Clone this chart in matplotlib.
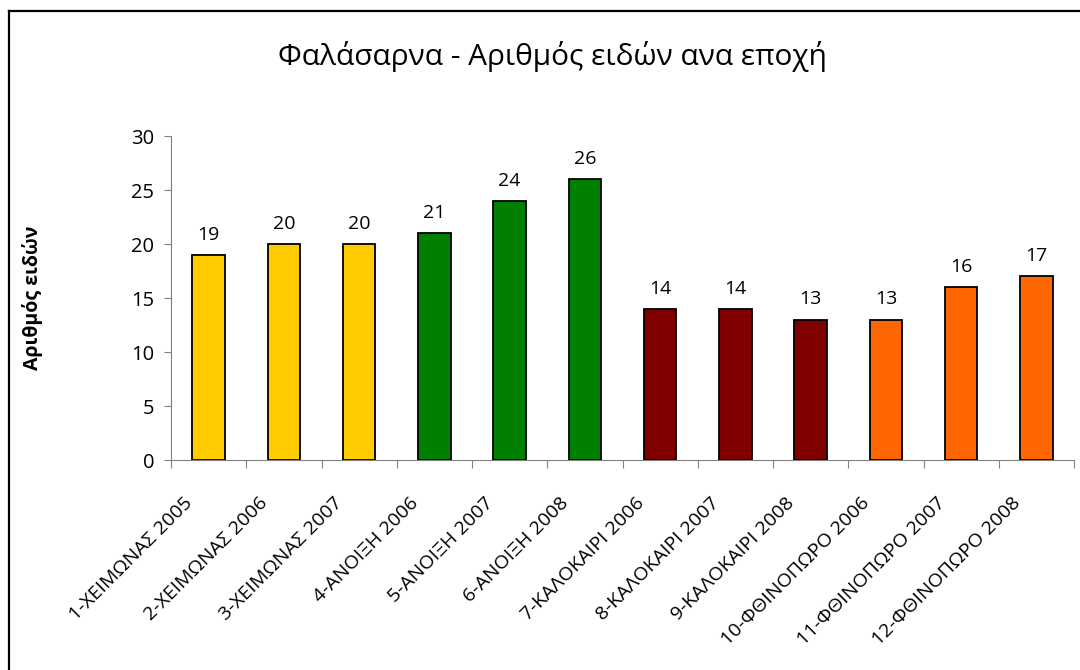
import matplotlib
matplotlib.use("Agg")
import matplotlib.pyplot as plt
import matplotlib.transforms as mtransforms
from matplotlib.lines import Line2D

plt.rcParams['font.family'] = ['Open Sans', 'DejaVu Sans']

# data
seasons = ["1-ΧΕΙΜΩΝΑΣ 2005", "2-ΧΕΙΜΩΝΑΣ 2006", "3-ΧΕΙΜΩΝΑΣ 2007",
           "4-ΑΝΟΙΞΗ 2006", "5-ΑΝΟΙΞΗ 2007", "6-ΑΝΟΙΞΗ 2008",
           "7-ΚΑΛΟΚΑΙΡΙ 2006", "8-ΚΑΛΟΚΑΙΡΙ 2007", "9-ΚΑΛΟΚΑΙΡΙ 2008",
           "10-ΦΘΙΝΟΠΩΡΟ 2006", "11-ΦΘΙΝΟΠΩΡΟ 2007", "12-ΦΘΙΝΟΠΩΡΟ 2008"]
species = [19, 20, 20, 21, 24, 26, 14, 14, 13, 13, 16, 17]
bar_colors = ["#FFCC00"] * 3 + ["#008000"] * 3 + ["#800000"] * 3 + ["#FF6600"] * 3
yticks = [0, 5, 10, 15, 20, 25, 30]

W, H = 1080, 670
fig = plt.figure(figsize=(W / 100, H / 100), dpi=100)
ax = fig.add_axes([171 / W, 1 - 460 / H, 903 / W, 324 / H])

x = range(len(species))
ax.bar(x, species, width=0.43, color=bar_colors, edgecolor="black", linewidth=1.3)
for xi, v in zip(x, species):
    ax.annotate(str(v), (xi, v), xytext=(0, 8), textcoords="offset points",
                ha="center", va="bottom", fontsize=14)

ax.set_xlim(-0.5, len(species) - 0.5)
ax.set_ylim(0, 30)
ax.set_yticks(yticks)
ax.tick_params(axis="y", labelsize=14.5, length=5, color="#808080", pad=7)

# category ticks between bars, labels centred under bars
ax.set_xticks([i - 0.5 for i in range(len(species) + 1)], minor=False)
ax.set_xticklabels([])
ax.set_xticks(list(x), minor=True)
ax.set_xticklabels(seasons, minor=True, rotation=45, ha="right", va="center",
                   rotation_mode="anchor", fontsize=14)
ax.tick_params(axis="x", which="major", length=6, color="#808080")
ax.tick_params(axis="x", which="minor", length=0, pad=29)
shift = mtransforms.ScaledTranslation(-19 / 100, 0, fig.dpi_scale_trans)
for lbl in ax.get_xticklabels(minor=True):
    lbl.set_transform(lbl.get_transform() + shift)

for s in ["top", "right"]:
    ax.spines[s].set_visible(False)
for s in ["left", "bottom"]:
    ax.spines[s].set_color("#808080")

ax.set_ylabel("Αριθμός ειδών", fontsize=14, fontweight="bold", labelpad=0)
ax.yaxis.set_label_coords((43 - 171) / 903, (460 - 298) / 324)

fig.text(553 / W, 1 - 56 / H, "Φαλάσαρνα - Αριθμός ειδών ανα εποχή",
         ha="center", va="center", fontsize=21.5)

# chart area frame (cut off on right and bottom)
fig.add_artist(Line2D([8.5 / W, 8.5 / W], [0, 1 - 10.5 / H], color="black", linewidth=1.6,
                      transform=fig.transFigure))
fig.add_artist(Line2D([8.5 / W, 1], [1 - 10.5 / H, 1 - 10.5 / H], color="black", linewidth=1.6,
                      transform=fig.transFigure))

fig.savefig("out.png", dpi=100)
